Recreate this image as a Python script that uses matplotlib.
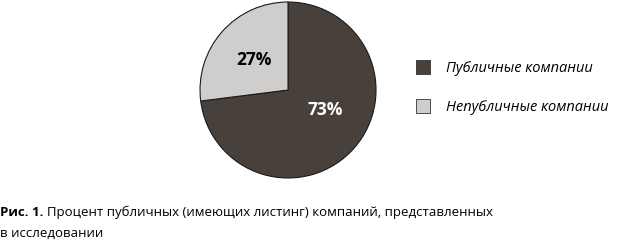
import matplotlib
matplotlib.use('Agg')
import matplotlib.pyplot as plt
from matplotlib.lines import Line2D

# datos del gráfico
categorias = ['Публичные компании', 'Непубличные компании']
valores = [73, 27]
colores = ['#48413b', '#d0cecd']
color_texto = ['white', 'black']
leyenda_marcas = ['#48413b', '#d0cecd']

fuente = 'Open Sans'

fig = plt.figure(figsize=(6.2, 2.41), dpi=100)
ax = fig.add_axes([0.3226, 0.2614, 0.2839, 0.7303])

cunas, textos, autotextos = ax.pie(
    valores, colors=colores, startangle=90, counterclock=False,
    autopct='%d%%', pctdistance=0.52,
    wedgeprops={'edgecolor': '#1a1a1a', 'linewidth': 0.8})
for t, c in zip(autotextos, color_texto):
    t.set_color(c)
    t.set_fontsize(12.5)
    t.set_fontweight('bold')
    t.set_family(fuente)
# ajustar la etiqueta del 73%
autotextos[0].set_position((0.42, -0.23))
ax.set_aspect('equal')
ax.set_xlim(-1, 1)
ax.set_ylim(-1, 1)

# leyenda
manijas = [Line2D([], [], linestyle='none', marker='s', markersize=10,
                  markerfacecolor=c, markeredgecolor='#333333', markeredgewidth=0.6)
           for c in leyenda_marcas]
fig.legend(manijas, categorias, loc='upper left', bbox_to_anchor=(0.637, 0.80),
           frameon=False, handletextpad=0.6, labelspacing=1.65,
           prop={'family': fuente, 'style': 'italic', 'size': 10.5})

# pie de figura
fig.canvas.draw()
r = fig.canvas.get_renderer()
t1 = fig.text(0.0, 0.103, 'Рис. 1.', family=fuente, fontweight='bold', fontsize=9.5)
bb = t1.get_window_extent(r)
fig.text(bb.x1 / fig.bbox.width + 0.006, 0.103,
         'Процент публичных (имеющих листинг) компаний, представленных',
         family=fuente, fontsize=9.5)
fig.text(0.0, 0.018, 'в исследовании', family=fuente, fontsize=9.5)

fig.savefig('out.png', dpi=100)
